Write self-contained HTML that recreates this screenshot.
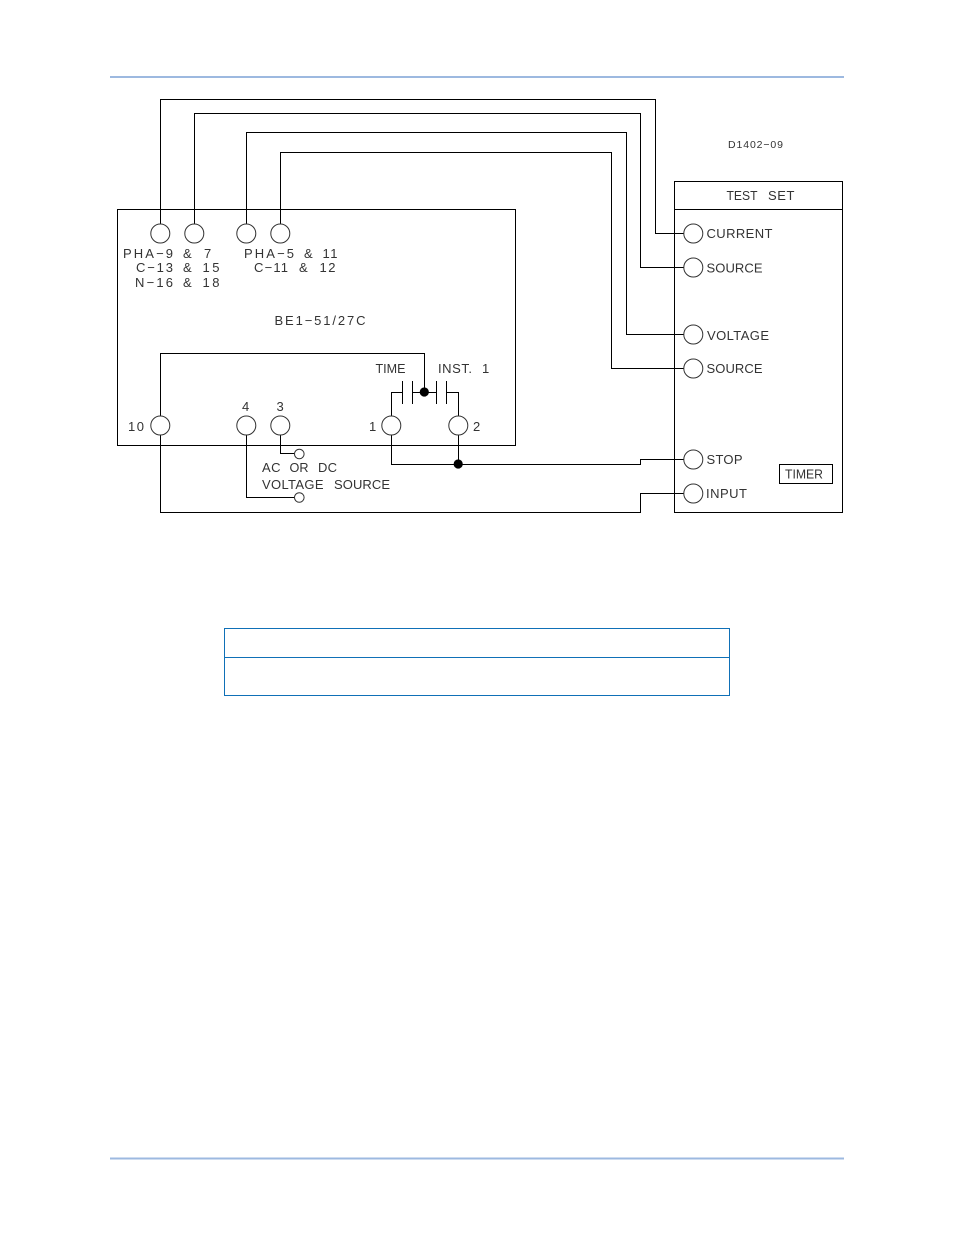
<!DOCTYPE html>
<html>
<head>
<meta charset="utf-8">
<style>
html,body{margin:0;padding:0;background:#fff;width:954px;height:1235px;overflow:hidden}
svg{display:block}
text{font-family:"Liberation Sans",sans-serif;font-size:13px;fill:#333;stroke:none}
.w{fill:none;stroke:#000;stroke-width:1}
.c{fill:#fff;stroke:#333;stroke-width:1}
</style>
</head>
<body>
<svg width="954" height="1235" viewBox="0 0 954 1235" xmlns="http://www.w3.org/2000/svg">
<rect x="110" y="76" width="734" height="2" fill="#9db9e0"/>
<rect x="110" y="1157.500" width="734" height="2" fill="#9db9e0"/>

<!-- boxes -->
<rect class="w" x="117.500" y="209.500" width="398" height="236"/>
<rect class="w" x="674.500" y="181.500" width="168" height="331"/>
<path class="w" d="M674.500 209.500H842.500"/>
<rect class="w" x="779.500" y="464.500" width="53" height="19"/>

<!-- wires -->
<path class="w" d="M160.500 224V99.500H655.500V233.500H684"/>
<path class="w" d="M194.500 224V113.500H640.500V267.500H684"/>
<path class="w" d="M246.500 224V132.500H626.500V334.500H684"/>
<path class="w" d="M280.500 224V152.500H611.500V368.500H684"/>
<path class="w" d="M160.500 416V353.500H424.500V392"/>
<path class="w" d="M160.500 435V512.500H640.500V493.500H684"/>
<path class="w" d="M246.500 435V497.500H295"/>
<path class="w" d="M280.500 435V453.500H295"/>
<path class="w" d="M391.500 416V392.500H402.500M402.500 381V404M412.500 381V404M412.500 392.500H436.500M436.500 381V404M446.500 381V404M446.500 392.500H458.500V416"/>
<path class="w" d="M391.500 435V464.500H640.500V459.500H684"/>
<path class="w" d="M458.500 435V464"/>
<circle cx="424.300" cy="392" r="4.600" fill="#000"/>
<circle cx="458.200" cy="464" r="4.600" fill="#000"/>

<!-- terminals -->
<circle class="c" cx="160.300" cy="233.500" r="9.500"/>
<circle class="c" cx="194.300" cy="233.500" r="9.500"/>
<circle class="c" cx="246.300" cy="233.500" r="9.500"/>
<circle class="c" cx="280.300" cy="233.500" r="9.500"/>
<circle class="c" cx="160.300" cy="425.500" r="9.500"/>
<circle class="c" cx="246.300" cy="425.500" r="9.500"/>
<circle class="c" cx="280.300" cy="425.500" r="9.500"/>
<circle class="c" cx="391.300" cy="425.500" r="9.500"/>
<circle class="c" cx="458.300" cy="425.500" r="9.500"/>
<circle class="c" cx="693.300" cy="233.500" r="9.500"/>
<circle class="c" cx="693.300" cy="267.500" r="9.500"/>
<circle class="c" cx="693.300" cy="334.500" r="9.500"/>
<circle class="c" cx="693.300" cy="368.500" r="9.500"/>
<circle class="c" cx="693.300" cy="459.500" r="9.500"/>
<circle class="c" cx="693.300" cy="493.500" r="9.500"/>
<circle class="c" cx="299.300" cy="454" r="4.800"/>
<circle class="c" cx="299.300" cy="497.500" r="4.800"/>

<!-- labels -->
<text x="123" y="258" textLength="50">PHA−9</text>
<text x="183" y="258" textLength="11">&amp;</text>
<text x="204" y="258" textLength="8">7</text>
<text x="136" y="272" textLength="37">C−13</text>
<text x="183" y="272" textLength="11">&amp;</text>
<text x="202.500" y="272" textLength="17">15</text>
<text x="135" y="287" textLength="38">N−16</text>
<text x="183" y="287" textLength="11">&amp;</text>
<text x="202.500" y="287" textLength="17">18</text>
<text x="244" y="258" textLength="50">PHA−5</text>
<text x="304" y="258" textLength="11">&amp;</text>
<text x="322.500" y="258" textLength="15">11</text>
<text x="254" y="272" textLength="34">C−11</text>
<text x="299" y="272" textLength="11">&amp;</text>
<text x="319.500" y="272" textLength="16">12</text>
<text x="274.500" y="325" textLength="91">BE1−51/27C</text>
<text x="375.500" y="373" textLength="30" lengthAdjust="spacingAndGlyphs">TIME</text>
<text x="438" y="373" textLength="34">INST.</text>
<text x="482" y="373" textLength="7">1</text>
<text x="128" y="431" textLength="16">10</text>
<text x="242" y="411" textLength="7">4</text>
<text x="276.500" y="411" textLength="8">3</text>
<text x="369" y="431" textLength="7">1</text>
<text x="473" y="431" textLength="8">2</text>
<text x="262" y="472" textLength="18.500">AC</text>
<text x="289.500" y="472" textLength="19" lengthAdjust="spacingAndGlyphs">OR</text>
<text x="318" y="472" textLength="19">DC</text>
<text x="262" y="489" textLength="61.500">VOLTAGE</text>
<text x="334" y="489" textLength="56">SOURCE</text>
<text x="728" y="148" textLength="55" style="font-size:10.500px">D1402−09</text>
<text x="726.500" y="200" textLength="31" lengthAdjust="spacingAndGlyphs">TEST</text>
<text x="768" y="200" textLength="26.500">SET</text>
<text x="706.500" y="238" textLength="66">CURRENT</text>
<text x="706.500" y="272.500" textLength="56">SOURCE</text>
<text x="707" y="340" textLength="62">VOLTAGE</text>
<text x="706.500" y="373" textLength="56">SOURCE</text>
<text x="706.500" y="464" textLength="36">STOP</text>
<text x="706" y="498" textLength="41">INPUT</text>
<text x="785" y="478.500" textLength="38" lengthAdjust="spacingAndGlyphs">TIMER</text>

<!-- empty table -->
<rect x="224.500" y="628.500" width="505" height="67" fill="#fff" stroke="#0f70b7" stroke-width="1"/>
<path d="M224.500 657.500H729.500" stroke="#0f70b7" stroke-width="1" fill="none"/>
</svg>
</body>
</html>
